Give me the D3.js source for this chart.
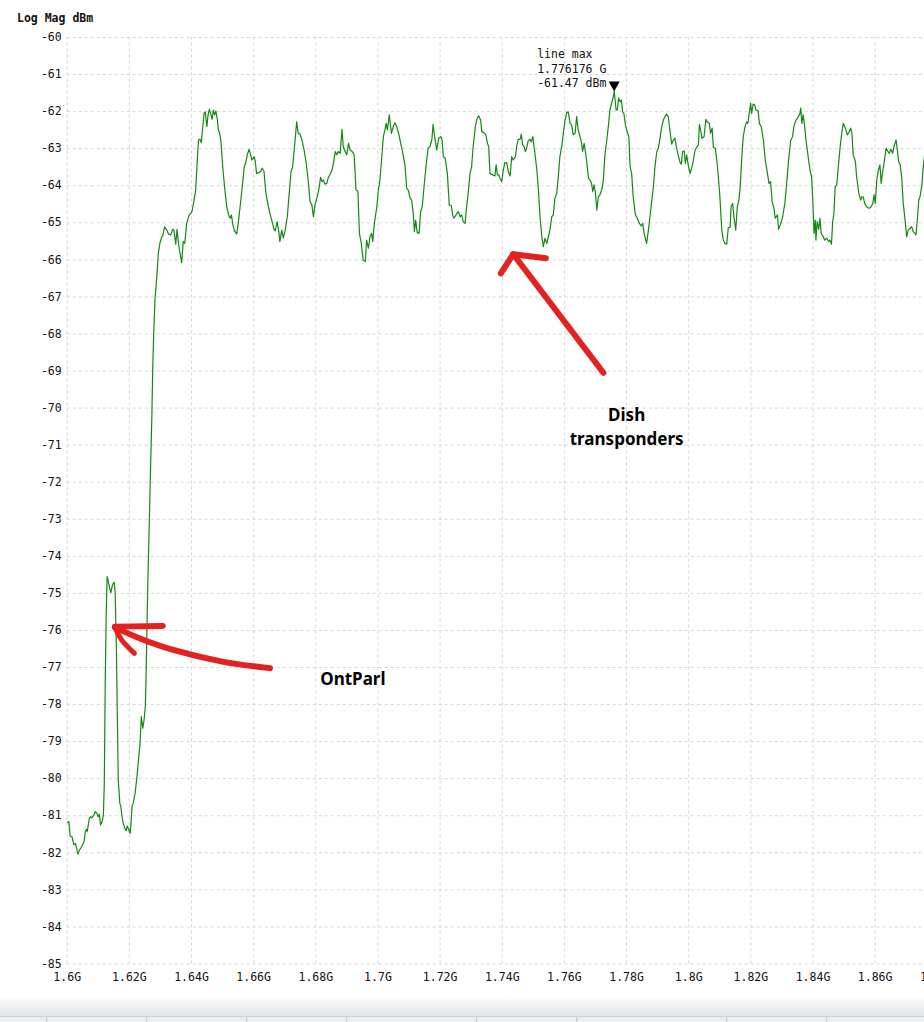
<!DOCTYPE html>
<html>
<head>
<meta charset="utf-8">
<script src="https://cdn.jsdelivr.net/npm/d3@7"></script>
<style>
  body { margin: 0; background: #fff; }
  svg { display: block; }
  .grid line { stroke: #d6d6d6; stroke-dasharray: 3,3; }
  .grid path { display: none; }
  .axis-text { font-family: "DejaVu Sans Mono", monospace; font-size: 11.5px; fill: #111; }
  .note { font-family: "Noto Sans", "Open Sans", sans-serif; font-weight: bold; font-size: 17px; fill: #000; }
</style>
</head>
<body>
<div id="chart"></div>
<script>
// sweep readout, GHz / dBm
const freqGHz = [
  1.6002,1.6007,1.6011,1.6017,1.6023,1.6028,1.6032,1.6036,1.6041,1.6048,1.6056,1.6060,1.6064,1.6066,1.6073,1.6077,
  1.6081,1.6088,1.6092,1.6097,1.6101,1.6105,1.6109,1.6114,1.6118,1.6121,1.6124,1.6127,1.6130,1.6133,1.6137,1.6142,
  1.6146,1.6150,1.6153,1.6156,1.6160,1.6163,1.6166,1.6171,1.6174,1.6178,1.6182,1.6187,1.6191,1.6195,1.6200,1.6204,
  1.6207,1.6210,1.6214,1.6220,1.6225,1.6230,1.6236,1.6240,1.6245,1.6249,1.6253,1.6255,1.6257,1.6261,1.6266,1.6270,
  1.6274,1.6277,1.6280,1.6284,1.6290,1.6295,1.6300,1.6306,1.6309,1.6315,1.6322,1.6328,1.6335,1.6341,1.6345,1.6351,
  1.6355,1.6361,1.6370,1.6375,1.6380,1.6386,1.6393,1.6397,1.6403,1.6410,1.6415,1.6418,1.6424,1.6429,1.6433,1.6438,
  1.6442,1.6446,1.6451,1.6455,1.6459,1.6463,1.6468,1.6472,1.6476,1.6480,1.6485,1.6488,1.6491,1.6496,1.6502,1.6508,
  1.6515,1.6521,1.6526,1.6530,1.6534,1.6539,1.6547,1.6552,1.6558,1.6564,1.6571,1.6577,1.6581,1.6587,1.6592,1.6596,
  1.6603,1.6607,1.6611,1.6618,1.6624,1.6629,1.6635,1.6641,1.6648,1.6654,1.6661,1.6667,1.6671,1.6677,1.6682,1.6686,
  1.6692,1.6697,1.6703,1.6710,1.6716,1.6722,1.6727,1.6734,1.6740,1.6745,1.6751,1.6757,1.6764,1.6770,1.6777,1.6783,
  1.6789,1.6794,1.6799,1.6805,1.6811,1.6817,1.6822,1.6826,1.6831,1.6837,1.6842,1.6847,1.6854,1.6860,1.6864,1.6869,
  1.6874,1.6880,1.6886,1.6890,1.6896,1.6901,1.6907,1.6912,1.6918,1.6925,1.6931,1.6937,1.6942,1.6948,1.6954,1.6961,
  1.6965,1.6971,1.6976,1.6981,1.6985,1.6990,1.6998,1.7003,1.7008,1.7014,1.7019,1.7024,1.7028,1.7032,1.7038,1.7045,
  1.7051,1.7056,1.7062,1.7068,1.7075,1.7081,1.7089,1.7094,1.7099,1.7105,1.7110,1.7115,1.7119,1.7123,1.7128,1.7134,
  1.7139,1.7144,1.7150,1.7156,1.7163,1.7169,1.7175,1.7179,1.7184,1.7191,1.7197,1.7204,1.7208,1.7212,1.7218,1.7225,
  1.7231,1.7238,1.7242,1.7246,1.7253,1.7260,1.7266,1.7271,1.7276,1.7282,1.7287,1.7292,1.7298,1.7303,1.7308,1.7315,
  1.7321,1.7326,1.7332,1.7336,1.7343,1.7349,1.7354,1.7358,1.7362,1.7371,1.7378,1.7382,1.7386,1.7390,1.7394,1.7400,
  1.7405,1.7410,1.7416,1.7421,1.7427,1.7432,1.7437,1.7444,1.7448,1.7453,1.7459,1.7463,1.7467,1.7472,1.7476,1.7480,
  1.7485,1.7491,1.7495,1.7500,1.7504,1.7508,1.7513,1.7518,1.7523,1.7529,1.7534,1.7539,1.7545,1.7550,1.7555,1.7561,
  1.7566,1.7571,1.7577,1.7582,1.7587,1.7593,1.7598,1.7604,1.7609,1.7614,1.7620,1.7625,1.7630,1.7636,1.7641,1.7646,
  1.7652,1.7657,1.7660,1.7665,1.7669,1.7673,1.7679,1.7684,1.7689,1.7693,1.7697,1.7701,1.7706,1.7711,1.7716,1.7723,
  1.7727,1.7732,1.7738,1.7743,1.7748,1.7754,1.7759,1.7762,1.7768,1.7772,1.7776,1.7781,1.7785,1.7789,1.7793,1.7798,
  1.7802,1.7809,1.7813,1.7818,1.7823,1.7830,1.7836,1.7843,1.7849,1.7854,1.7858,1.7862,1.7866,1.7872,1.7877,1.7883,
  1.7888,1.7893,1.7899,1.7904,1.7909,1.7915,1.7920,1.7925,1.7931,1.7936,1.7941,1.7947,1.7952,1.7957,1.7961,1.7965,
  1.7969,1.7974,1.7978,1.7982,1.7987,1.7991,1.7995,1.8000,1.8006,1.8011,1.8016,1.8022,1.8027,1.8033,1.8036,1.8040,
  1.8044,1.8051,1.8057,1.8061,1.8068,1.8072,1.8077,1.8081,1.8087,1.8092,1.8097,1.8102,1.8108,1.8113,1.8118,1.8124,
  1.8129,1.8135,1.8138,1.8143,1.8147,1.8153,1.8158,1.8163,1.8167,1.8172,1.8177,1.8183,1.8188,1.8192,1.8197,1.8201,
  1.8204,1.8209,1.8214,1.8218,1.8225,1.8229,1.8235,1.8242,1.8248,1.8255,1.8260,1.8265,1.8270,1.8276,1.8280,1.8287,
  1.8291,1.8298,1.8304,1.8311,1.8317,1.8323,1.8330,1.8336,1.8340,1.8347,1.8353,1.8360,1.8362,1.8366,1.8370,1.8375,
  1.8379,1.8386,1.8392,1.8397,1.8401,1.8405,1.8409,1.8411,1.8415,1.8420,1.8424,1.8428,1.8435,1.8439,1.8446,1.8452,
  1.8456,1.8461,1.8465,1.8469,1.8473,1.8478,1.8484,1.8489,1.8494,1.8499,1.8506,1.8512,1.8518,1.8523,1.8527,1.8531,
  1.8538,1.8542,1.8549,1.8555,1.8559,1.8563,1.8568,1.8574,1.8581,1.8587,1.8594,1.8598,1.8602,1.8607,1.8612,1.8617,
  1.8621,1.8626,1.8630,1.8637,1.8643,1.8647,1.8652,1.8658,1.8662,1.8669,1.8673,1.8677,1.8682,1.8687,1.8692,1.8698,
  1.8703,1.8708,1.8714,1.8719,1.8724,1.8730,1.8733,1.8737,1.8742,1.8746,1.8752,1.8757,1.8763
]
const magDbm = [
  -81.20,-81.17,-81.56,-81.58,-81.80,-81.76,-81.89,-82.05,-81.94,-81.85,-81.71,-81.44,-81.38,-81.44,-81.08,-81.04,
  -81.07,-80.99,-80.90,-80.95,-81.04,-80.97,-81.26,-81.17,-80.99,-80.14,-77.44,-75.64,-74.56,-74.65,-74.83,-74.99,
  -74.83,-74.74,-74.71,-75.01,-76.54,-78.34,-80.05,-80.68,-80.75,-81.04,-81.22,-81.35,-81.42,-81.29,-81.40,-81.49,
  -81.22,-80.77,-80.68,-80.41,-80.05,-79.60,-79.06,-78.34,-78.65,-78.43,-78.07,-77.44,-76.54,-74.74,-73.03,-71.59,
  -70.25,-68.90,-68.00,-67.10,-66.47,-65.83,-65.56,-65.39,-65.37,-65.12,-65.21,-65.32,-65.34,-65.19,-65.21,-65.59,
  -65.19,-65.66,-66.09,-65.52,-65.57,-65.03,-64.83,-64.78,-64.71,-64.40,-64.13,-63.68,-62.78,-62.76,-62.85,-62.42,
  -62.06,-62.02,-62.42,-62.10,-61.95,-62.06,-62.22,-61.97,-62.10,-62.00,-62.24,-62.51,-62.56,-62.78,-63.50,-64.04,
  -64.58,-64.80,-64.89,-64.80,-65.03,-65.21,-65.32,-65.03,-64.58,-64.13,-63.52,-63.36,-63.18,-63.03,-63.18,-63.32,
  -63.23,-63.36,-63.68,-63.66,-63.63,-63.54,-63.63,-64.22,-64.53,-64.76,-64.98,-65.19,-65.23,-64.98,-65.21,-65.52,
  -65.21,-65.43,-65.21,-64.85,-64.22,-63.63,-63.50,-62.87,-62.29,-62.60,-62.62,-62.78,-63.05,-63.36,-63.86,-64.44,
  -64.53,-64.85,-64.53,-64.35,-64.13,-63.79,-63.90,-63.86,-63.97,-63.95,-63.79,-63.72,-63.59,-63.32,-63.09,-63.18,
  -63.09,-63.14,-62.49,-62.96,-63.09,-63.18,-62.87,-63.05,-63.08,-63.18,-64.13,-64.15,-65.30,-65.57,-66.02,-66.06,
  -65.48,-65.70,-65.39,-65.30,-65.52,-65.03,-64.58,-64.13,-63.86,-63.23,-62.69,-62.51,-62.33,-62.51,-62.10,-62.60,
  -62.42,-62.31,-62.42,-62.60,-62.87,-63.10,-63.50,-64.08,-64.13,-64.35,-64.40,-64.76,-65.25,-64.94,-65.28,-65.30,
  -64.71,-64.58,-64.04,-63.50,-63.00,-62.96,-62.78,-62.36,-62.69,-63.05,-62.73,-62.69,-62.78,-63.23,-63.27,-63.68,
  -64.53,-64.56,-64.80,-64.89,-64.80,-64.71,-64.85,-64.80,-64.98,-65.03,-64.58,-64.22,-63.68,-63.50,-62.96,-62.42,
  -62.19,-62.13,-62.24,-62.56,-62.58,-62.64,-62.87,-62.96,-63.68,-63.72,-63.75,-63.45,-63.72,-63.72,-63.81,-63.90,
  -63.59,-63.39,-63.39,-63.63,-63.75,-63.23,-63.32,-63.23,-62.96,-62.76,-62.76,-62.62,-62.91,-62.96,-63.09,-63.00,
  -62.80,-62.76,-62.83,-62.69,-62.96,-63.23,-63.59,-64.13,-64.85,-65.39,-65.66,-65.43,-65.57,-65.39,-65.21,-64.85,
  -64.80,-64.35,-64.22,-63.77,-63.23,-62.96,-62.60,-62.24,-62.04,-62.02,-62.33,-62.37,-62.64,-62.60,-62.15,-62.51,
  -62.69,-62.87,-63.09,-62.87,-63.09,-63.32,-63.81,-63.86,-63.95,-64.17,-63.99,-64.17,-64.67,-64.31,-64.26,-64.08,
  -63.86,-63.18,-62.78,-62.42,-61.97,-61.77,-61.61,-61.47,-61.97,-61.97,-61.65,-61.75,-61.70,-62.02,-62.06,-62.37,
  -62.51,-62.69,-63.50,-63.68,-64.31,-64.80,-64.89,-65.03,-65.10,-65.03,-65.30,-65.43,-65.57,-65.21,-64.85,-64.40,
  -64.04,-63.50,-63.09,-63.00,-62.75,-62.42,-62.24,-62.15,-62.08,-62.16,-62.51,-62.89,-62.78,-62.73,-62.91,-63.09,
  -63.23,-63.39,-63.43,-63.09,-63.07,-63.41,-63.18,-63.45,-63.68,-63.54,-63.36,-63.05,-62.98,-62.91,-62.36,-62.51,
  -62.73,-62.69,-62.22,-62.29,-62.33,-62.60,-62.46,-62.98,-63.00,-63.32,-63.77,-64.31,-65.21,-65.48,-65.57,-65.59,
  -65.14,-65.14,-64.58,-64.49,-64.85,-65.21,-64.58,-64.40,-64.08,-63.32,-62.69,-62.42,-62.29,-62.33,-62.02,-61.79,
  -62.06,-61.81,-61.83,-61.97,-61.99,-62.33,-62.42,-62.78,-63.32,-63.68,-63.95,-63.90,-64.44,-64.62,-64.89,-64.80,
  -65.19,-65.03,-64.85,-64.49,-63.95,-63.32,-62.78,-62.69,-62.42,-62.24,-62.17,-62.06,-61.92,-62.33,-62.10,-62.42,
  -62.78,-63.23,-63.59,-63.77,-64.40,-65.30,-64.94,-65.48,-64.98,-65.19,-64.89,-65.30,-65.39,-65.48,-65.43,-65.52,
  -65.48,-65.59,-64.98,-64.76,-64.04,-63.99,-63.41,-62.96,-62.60,-62.33,-62.46,-62.64,-62.56,-62.46,-62.60,-63.18,
  -63.36,-63.77,-64.22,-64.40,-64.31,-64.31,-64.49,-64.58,-64.62,-64.60,-64.49,-64.26,-64.49,-63.86,-63.59,-63.45,
  -63.95,-63.63,-63.41,-63.00,-63.09,-63.14,-63.03,-63.14,-62.96,-62.78,-63.05,-63.36,-63.45,-63.77,-64.49,-64.94,
  -65.39,-65.21,-65.16,-65.12,-65.25,-65.30,-65.34,-64.98,-64.40,-64.31,-63.99,-63.45,-63.00
]

const xTicks = [1.60, 1.62, 1.64, 1.66, 1.68, 1.70, 1.72, 1.74, 1.76, 1.78, 1.80, 1.82, 1.84, 1.86, 1.88]
const xTickLabels = ["1.6G", "1.62G", "1.64G", "1.66G", "1.68G", "1.7G", "1.72G", "1.74G", "1.76G", "1.78G", "1.8G", "1.82G", "1.84G", "1.86G", "1.88G"]
const yTicks = [-60, -61, -62, -63, -64, -65, -66, -67, -68, -69, -70, -71, -72, -73, -74, -75, -76, -77, -78, -79, -80, -81, -82, -83, -84, -85]

// marker readout
const markerName = "line max"
const markerFreq = 1.776176
const markerDbm = -61.47

// hand drawn notes, in chart units [GHz, dBm]
const dishShaft = [[1.7727, -69.06], [1.7437, -65.86]]
const dishHead = [[1.7397, -66.38], [1.7437, -65.86], [1.7542, -65.97]]
const ontShaft = [[1.6654, -77.03], [1.6504, -76.86], [1.6343, -76.54], [1.6236, -76.23], [1.6155, -75.93]]
const ontHeadA = [[1.6155, -75.91], [1.6309, -75.89]]
const ontHeadB = [[1.6155, -75.93], [1.6177, -76.27], [1.6218, -76.63]]
const notes = [
  { lines: ["Dish", "transponders"], f: 1.7802, db: -70.36 },
  { lines: ["OntParl"], f: 1.6921, db: -77.49 }
]

const width = 924, height = 1022
const margin = { top: 37, left: 66.7, bottom: 58.5 }
const step = 62.15  // px per 20 MHz

const svg = d3.select("#chart").append("svg")
    .attr("width", width)
    .attr("height", height)

const x = d3.scaleLinear()
    .domain([1.60, 1.88])
    .range([margin.left, margin.left + step * 14])

const y = d3.scaleLinear()
    .domain([-85, -60])
    .range([height - margin.bottom, margin.top])

// grid + tick labels
svg.append("g")
    .attr("class", "grid")
    .attr("transform", `translate(0,${y(-85)})`)
    .call(d3.axisBottom(x)
        .tickValues(xTicks)
        .tickSize(-(y(-85) - y(-60)))
        .tickPadding(9)
        .tickFormat((d, i) => xTickLabels[i]))
    .call(g => g.selectAll("text").attr("class", "axis-text").attr("font-family", null).attr("font-size", null))

svg.append("g")
    .attr("class", "grid")
    .attr("transform", `translate(${x(1.60)},0)`)
    .call(d3.axisLeft(y)
        .tickValues(yTicks)
        .tickSize(-(x(1.88) - x(1.60)))
        .tickPadding(5)
        .tickFormat(d => d))
    .call(g => g.selectAll("text").attr("class", "axis-text").attr("font-family", null).attr("font-size", null))

svg.append("text")
    .attr("class", "axis-text")
    .attr("x", 17)
    .attr("y", 22)
    .style("font-weight", "bold")
    .text("Log Mag dBm")

// trace
const trace = freqGHz.map((f, i) => [f, magDbm[i]])
const line = d3.line()
    .x(d => x(d[0]))
    .y(d => y(d[1]))

svg.append("path")
    .attr("fill", "none")
    .attr("stroke", "#128a12")
    .attr("stroke-width", 1.2)
    .attr("stroke-linejoin", "round")
    .attr("d", line(trace))

// marker
const mx = x(markerFreq), my = y(markerDbm)
svg.append("path")
    .attr("d", `M${mx - 5.5},${my - 10}L${mx + 5.5},${my - 10}L${mx},${my}Z`)
    .attr("fill", "#000")

const markerText = svg.append("text")
    .attr("class", "axis-text")
    .attr("x", mx - 77)
    .attr("y", my - 33.5)
markerText.selectAll("tspan")
    .data([markerName, markerFreq.toFixed(6) + " G", markerDbm.toFixed(2) + " dBm"])
    .join("tspan")
        .attr("x", mx - 77)
        .attr("dy", (d, i) => i ? 14.7 : 0)
        .text(d => d)

// red hand drawn arrows
const redLine = d3.line().x(d => x(d[0])).y(d => y(d[1]))
const curvy = d3.line().x(d => x(d[0])).y(d => y(d[1])).curve(d3.curveCatmullRom)
const strokes = [
    { pts: dishShaft, gen: redLine, w: 6 },
    { pts: dishHead, gen: redLine, w: 6 },
    { pts: ontShaft, gen: curvy, w: 6 },
    { pts: ontHeadA, gen: redLine, w: 6 },
    { pts: ontHeadB, gen: curvy, w: 5 }
]
svg.selectAll(".red-stroke")
    .data(strokes)
    .join("path")
        .attr("class", "red-stroke")
        .attr("d", d => d.gen(d.pts))
        .attr("fill", "none")
        .attr("stroke", "#e42121")
        .attr("stroke-width", d => d.w)
        .attr("stroke-linecap", "round")
        .attr("stroke-linejoin", "round")

notes.forEach(n => {
    const t = svg.append("text")
        .attr("class", "note")
        .attr("text-anchor", "middle")
        .attr("y", y(n.db))
    t.selectAll("tspan")
        .data(n.lines)
        .join("tspan")
            .attr("x", x(n.f))
            .attr("dy", (d, i) => i ? 24.5 : 0)
            .text(d => d)
})

// window bottom bar (screenshot chrome)
const defs = svg.append("defs")
const grad = defs.append("linearGradient")
    .attr("id", "barfade")
    .attr("x1", 0).attr("x2", 0).attr("y1", 0).attr("y2", 1)
grad.append("stop").attr("offset", "0%").attr("stop-color", "#ffffff")
grad.append("stop").attr("offset", "100%").attr("stop-color", "#e2e4e7")
svg.append("rect")
    .attr("x", 0).attr("y", 996).attr("width", width).attr("height", 20)
    .attr("fill", "url(#barfade)")
svg.append("rect")
    .attr("x", 0).attr("y", 1016).attr("width", width).attr("height", 6)
    .attr("fill", "#eceef0")
svg.append("line")
    .attr("x1", 0).attr("x2", width).attr("y1", 1016.5).attr("y2", 1016.5)
    .attr("stroke", "#cfd2d6")
const tabEdges = [46.7, 146.7, 246.7, 346.7, 476.7, 576.7, 726.7, 826.7]
svg.selectAll(".tab-edge")
    .data(tabEdges)
    .join("line")
        .attr("class", "tab-edge")
        .attr("x1", d => d).attr("x2", d => d)
        .attr("y1", 1017).attr("y2", 1022)
        .attr("stroke", "#c4c7cb")
</script>
</body>
</html>
